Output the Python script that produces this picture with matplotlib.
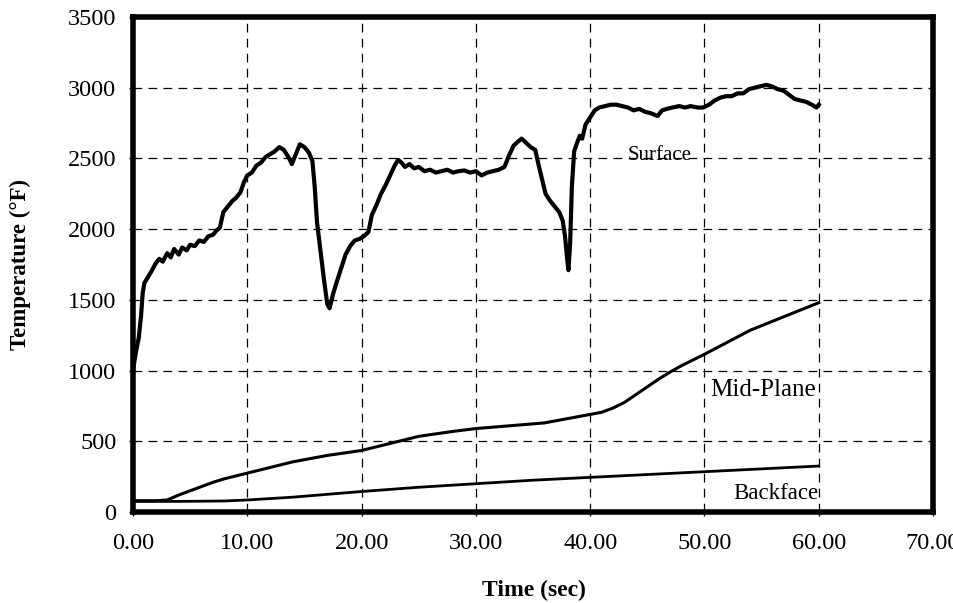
import numpy as np
import matplotlib
matplotlib.use("Agg")
import matplotlib.pyplot as plt

plt.rcParams["font.family"] = ["Liberation Serif", "DejaVu Serif"]

# ── data ──────────────────────────────────────────────────────────────────────
surface_t = [0.0, 0.15, 0.3, 0.5, 0.7, 0.85, 1.0, 1.3, 1.6, 2.0, 2.3, 2.6, 3.0, 3.3,
             3.6, 4.0, 4.3, 4.7, 5.0, 5.4, 5.8, 6.2, 6.6, 7.0, 7.3, 7.6, 7.9, 8.3,
             8.7, 9.0, 9.4, 9.7, 10.0, 10.4, 10.8, 11.2, 11.6, 12.0, 12.4, 12.8,
             13.2, 13.6, 13.9, 14.2, 14.6, 15.0, 15.4, 15.7, 15.9, 16.1, 16.4,
             16.7, 17.0, 17.2, 17.5, 17.8, 18.2, 18.6, 19.0, 19.4, 19.8, 20.2,
             20.6, 20.9, 21.3, 21.7, 22.1, 22.5, 22.9, 23.2, 23.5, 23.8, 24.2,
             24.6, 25.0, 25.5, 26.0, 26.5, 27.0, 27.5, 28.0, 28.5, 29.0, 29.5,
             30.0, 30.5, 31.0, 31.5, 32.0, 32.5, 32.9, 33.3, 33.7, 34.0, 34.4,
             34.8, 35.2, 35.5, 35.8, 36.1, 36.5, 36.9, 37.3, 37.6, 37.8, 38.0,
             38.1, 38.25, 38.4, 38.6, 38.9, 39.1, 39.3, 39.6, 40.0, 40.4, 40.8,
             41.3, 41.8, 42.3, 42.8, 43.3, 43.8, 44.3, 44.8, 45.3, 45.9, 46.3,
             46.7, 47.2, 47.8, 48.3, 48.8, 49.4, 49.9, 50.4, 50.9, 51.4, 51.9,
             52.4, 52.9, 53.4, 53.9, 54.4, 54.9, 55.4, 55.9, 56.4, 56.9, 57.4,
             57.9, 58.4, 58.9, 59.4, 59.8, 60.0]
surface_T = [1000, 1080, 1150, 1230, 1380, 1550, 1620, 1660, 1700, 1760, 1790, 1770,
             1830, 1800, 1860, 1820, 1870, 1850, 1890, 1880, 1920, 1910, 1950, 1960,
             1990, 2010, 2120, 2160, 2200, 2220, 2260, 2330, 2380, 2400, 2450, 2470,
             2510, 2530, 2550, 2580, 2560, 2510, 2460, 2520, 2600, 2580, 2540, 2480,
             2300, 2050, 1850, 1650, 1470, 1440, 1540, 1620, 1720, 1820, 1880, 1920,
             1930, 1950, 1980, 2100, 2170, 2250, 2310, 2380, 2450, 2490, 2470, 2440,
             2460, 2430, 2440, 2410, 2420, 2400, 2410, 2420, 2400, 2410, 2415, 2400,
             2410, 2380, 2400, 2410, 2420, 2440, 2520, 2590, 2620, 2640, 2610, 2580,
             2560, 2450, 2350, 2250, 2200, 2160, 2120, 2060, 1950, 1780, 1710, 1900,
             2300, 2550, 2620, 2660, 2640, 2740, 2790, 2840, 2860, 2870, 2880, 2880,
             2870, 2860, 2840, 2850, 2830, 2820, 2800, 2840, 2850, 2860, 2870, 2860,
             2870, 2860, 2860, 2880, 2910, 2930, 2940, 2940, 2960, 2960, 2990, 3000,
             3010, 3020, 3010, 2990, 2980, 2950, 2920, 2910, 2900, 2880, 2860, 2880]

mid_t = [0, 2, 3, 4, 5, 6, 7, 8, 10, 12, 14, 17, 20, 23, 25, 28, 30, 33, 36, 38,
         40, 41, 42, 43, 44, 45, 46, 47, 48, 49, 50, 52, 54, 56, 58, 60]
mid_T = [80, 80, 85, 120, 150, 180, 210, 235, 275, 315, 355, 400, 435, 495, 535,
         570, 590, 610, 630, 660, 690, 705, 735, 775, 830, 885, 940, 990, 1035,
         1075, 1115, 1200, 1285, 1350, 1415, 1480]

back_t = [0, 4, 8, 10, 14, 17, 20, 25, 30, 35, 40, 45, 50, 55, 60]
back_T = [75, 75, 78, 85, 105, 125, 145, 175, 200, 225, 245, 265, 285, 305, 325]

x_ticks = [0, 10, 20, 30, 40, 50, 60, 70]
y_ticks = [0, 500, 1000, 1500, 2000, 2500, 3000, 3500]

# ── figure ────────────────────────────────────────────────────────────────────
fig = plt.figure(figsize=(9.54, 6.03), dpi=100)
ax = fig.add_axes([0.1394, 0.1509, 0.978 - 0.1394, 0.9718 - 0.1509])

ax.plot(surface_t, surface_T, color="black", lw=3.0, zorder=3)
ax.plot(mid_t, mid_T, color="black", lw=2.2, zorder=3)
ax.plot(back_t, back_T, color="black", lw=2.0, zorder=3)

ax.set_xlim(0, 70)
ax.set_ylim(0, 3500)
ax.set_xticks(x_ticks)
ax.set_xticklabels([f"{v:.2f}" for v in x_ticks])
ax.set_yticks(y_ticks)
ax.tick_params(labelsize=17.5, length=3, width=1, direction="out")
ax.tick_params(axis="x", pad=12)
ax.tick_params(axis="y", pad=9)

ax.grid(True, color="black", lw=0.9, linestyle=(0, (7, 5)))
for sp in ax.spines.values():
    sp.set_linewidth(4)

ax.text(43.3, 2520, "Surface", fontsize=15, va="center", ha="left")
ax.text(50.5, 860, "Mid-Plane", fontsize=18, va="center", ha="left")
ax.text(52.5, 130, "Backface", fontsize=16.5, va="center", ha="left")

fig.text(534 / 954, 1 - 590 / 603, "Time (sec)", fontsize=17, fontweight="bold",
         ha="center", va="center")
fig.text(20 / 954, 1 - 265 / 603, "Temperature (°F)", fontsize=16.5,
         fontweight="bold", rotation=90, ha="center", va="center")

fig.savefig("out.png", dpi=100)
